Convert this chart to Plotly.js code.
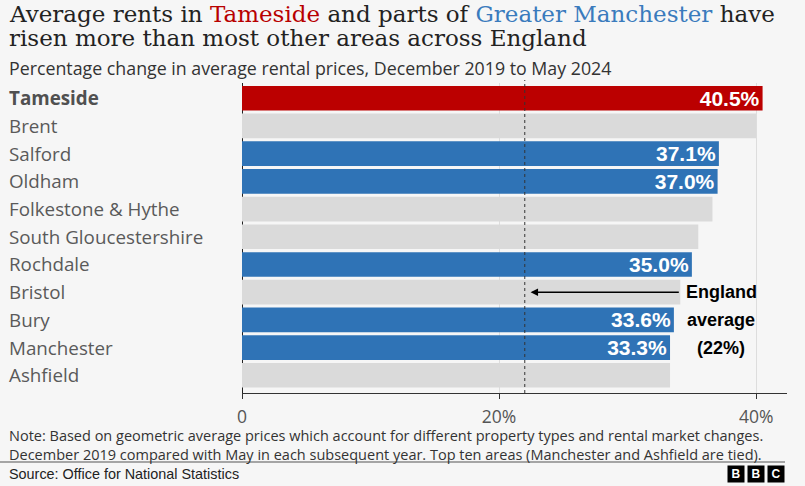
<!DOCTYPE html>
<html>
<head>
<meta charset="utf-8">
<script src="https://cdn.plot.ly/plotly-3.0.1.min.js"></script>
<style>
  html, body { margin: 0; padding: 0; background: #f6f6f6; }
  #chart { width: 805px; height: 486px; }
</style>
</head>
<body>
<div id="chart"></div>
<script>
// ---- data ----
const areas = ["Tameside", "Brent", "Salford", "Oldham", "Folkestone & Hythe",
  "South Gloucestershire", "Rochdale", "Bristol", "Bury", "Manchester", "Ashfield"];
const changePct = [40.5, 40.0, 37.1, 37.0, 36.6, 35.5, 35.0, 34.1, 33.6, 33.3, 33.3];
const group = ["Tameside", "Other", "Greater Manchester", "Greater Manchester", "Other",
  "Other", "Greater Manchester", "Other", "Greater Manchester", "Greater Manchester", "Other"];
const englandAverage = 22;
const tickValues = [0, 20, 40];
const tickLabels = ["0", "20%", "40%"];

// ---- styling ----
const groupColor = { "Tameside": "#bb0000", "Greater Manchester": "#2f73b6", "Other": "#dadada" };
const W = 805, H = 486;
const M = { l: 242, r: 18, t: 83, b: 93 };
const plotW = W - M.l - M.r, plotH = H - M.t - M.b;
const px = X => (X - M.l) / plotW;          // pixel x -> paper
const py = Y => (H - M.b - Y) / plotH;      // pixel y -> paper

const sans = "Open Sans, sans-serif";
const arial = "Liberation Sans, Arial, sans-serif";

const trace = {
  type: "bar",
  orientation: "h",
  y: areas,
  x: changePct,
  marker: { color: group.map(g => groupColor[g]) },
  text: changePct.map((v, i) => group[i] === "Other" ? "" : v.toFixed(1) + "%"),
  textposition: "inside",
  insidetextanchor: "end",
  constraintext: "none",
  textangle: 0,
  textfont: { family: arial, size: 21, color: "#ffffff", weight: "bold" },
  hoverinfo: "skip",
  cliponaxis: false
};

const annotations = [];
// category labels (left aligned)
areas.forEach((a, i) => {
  annotations.push({
    xref: "paper", yref: "y", x: px(7), y: a, xanchor: "left", yanchor: "middle",
    text: i === 0 ? "<b>" + a + "</b>" : a, showarrow: false,
    font: { family: sans, size: 18.8, color: i === 0 ? "#505050" : "#5a5a5a" }
  });
});
// England average arrow
annotations.push({
  xref: "x", yref: "y", x: englandAverage + 0.45, y: "Bristol",
  axref: "x", ax: 34.1, ayref: "pixel", ay: 0,
  text: "", showarrow: true, arrowhead: 2, arrowsize: 1, arrowwidth: 1.5, arrowcolor: "#000"
});
const engText = ["England", "average", "(" + englandAverage + "%)"];
const engRows = ["Bristol", "Bury", "Manchester"];
engText.forEach((t, i) => {
  annotations.push({
    xref: "x", yref: "y", x: 37.3, y: engRows[i], xanchor: "center", yanchor: "middle",
    text: "<b>" + t + "</b>", showarrow: false,
    font: { family: arial, size: 18, color: "#000" }
  });
});
// titles
annotations.push({
  xref: "paper", yref: "paper", x: px(7), y: py(14), xanchor: "left", yanchor: "middle",
  text: 'Average rents in <span style="color:#b80000">Tameside</span> and parts of <span style="color:#3a7bbd">Greater Manchester</span> have',
  showarrow: false, font: { family: "DejaVu Serif, serif", size: 23, color: "#222222" }
});
annotations.push({
  xref: "paper", yref: "paper", x: px(7), y: py(38), xanchor: "left", yanchor: "middle",
  text: "risen more than most other areas across England",
  showarrow: false, font: { family: "DejaVu Serif, serif", size: 23, color: "#222222" }
});
annotations.push({
  xref: "paper", yref: "paper", x: px(7), y: py(68), xanchor: "left", yanchor: "middle",
  text: "Percentage change in average rental prices, December 2019 to May 2024",
  showarrow: false, font: { family: sans, size: 17.8, color: "#333333" }
});
// note (two lines in one text block)
annotations.push({
  xref: "paper", yref: "paper", x: px(7), y: py(445), xanchor: "left", yanchor: "middle", align: "left",
  text: "Note: Based on geometric average prices which account for different property types and rental market changes.<br>" +
        "December 2019 compared with May in each subsequent year. Top ten areas (Manchester and Ashfield are tied).",
  showarrow: false, font: { family: sans, size: 14.5, color: "#333333" }
});
annotations.push({
  xref: "paper", yref: "paper", x: px(7), y: py(474), xanchor: "left", yanchor: "middle",
  text: "Source: Office for National Statistics",
  showarrow: false, font: { family: arial, size: 14.4, color: "#222222" }
});
// BBC blocks
["B", "B", "C"].forEach((c, i) => {
  annotations.push({
    xref: "paper", yref: "paper", x: px(736 + 20 * i), y: py(474), xanchor: "center", yanchor: "middle",
    text: "<b>" + c + "</b>", showarrow: false, width: 16, height: 16, bgcolor: "#000", borderpad: 0,
    font: { family: arial, size: 12, color: "#fff" }
  });
});

const shapes = [
  { type: "line", xref: "x", yref: "paper", x0: englandAverage, x1: englandAverage, y0: 0, y1: py(80),
    line: { color: "#333", width: 1, dash: "3px,3px" }, layer: "above" },
  { type: "line", xref: "paper", yref: "paper", x0: px(0), x1: px(785), y0: py(462), y1: py(462),
    line: { color: "#555", width: 1 } }
];

const layout = {
  width: W, height: H,
  margin: M,
  paper_bgcolor: "#f6f6f6",
  plot_bgcolor: "#f6f6f6",
  showlegend: false,
  bargap: 0.11,
  xaxis: {
    range: [0, 42.4], tickvals: tickValues, ticktext: tickLabels,
    showgrid: true, gridcolor: "#dddddd", gridwidth: 1,
    zeroline: true, zerolinecolor: "#222", zerolinewidth: 1,
    showline: true, linecolor: "#333", linewidth: 1,
    ticks: "outside", ticklen: 5, tickcolor: "#333", ticklabelstandoff: 3,
    tickfont: { family: sans, size: 17.5, color: "#555" }, fixedrange: true
  },
  yaxis: {
    range: [10.64, -0.55], showticklabels: false, showgrid: false, zeroline: false, showline: false,
    fixedrange: true
  },
  annotations: annotations,
  shapes: shapes
};

Plotly.newPlot("chart", [trace], layout, { displayModeBar: false, staticPlot: true });
</script>
</body>
</html>
